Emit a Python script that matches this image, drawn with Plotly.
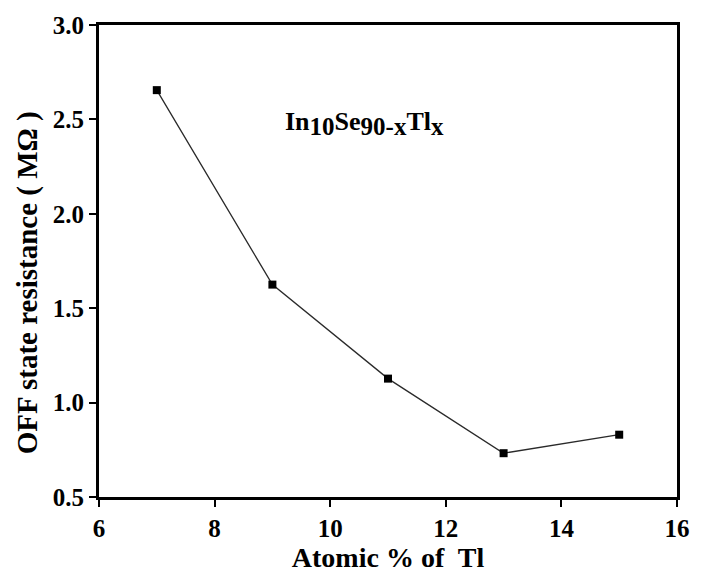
import plotly.graph_objects as go

# OFF-state resistance vs. thallium content for In10Se90-xTlx glasses
tl_percent = [7, 9, 11, 13, 15]
off_resistance = [2.655, 1.625, 1.127, 0.732, 0.83]

x_ticks = [6, 8, 10, 12, 14, 16]
y_ticks = [0.5, 1.0, 1.5, 2.0, 2.5, 3.0]

font_family = "Liberation Serif"

fig = go.Figure()
fig.add_trace(go.Scatter(
    x=tl_percent,
    y=off_resistance,
    mode="lines+markers",
    line=dict(color="#2a2a2a", width=1.3),
    marker=dict(symbol="square", size=8, color="black"),
    showlegend=False,
))

axis_common = dict(
    showgrid=False,
    zeroline=False,
    showline=True,
    linecolor="black",
    linewidth=3,
    mirror=True,
    ticks="outside",
    ticklen=7,
    tickwidth=2,
    tickcolor="black",
    tickfont=dict(family=font_family, size=25, color="black", weight="bold"),
)

fig.update_xaxes(
    range=[6, 16],
    tickvals=x_ticks,
    ticktext=[f"<b>{v}</b>" for v in x_ticks],
    title=dict(text="<b>Atomic % of  Tl</b>",
               font=dict(family=font_family, size=28, color="black"),
               standoff=4),
    **axis_common,
)
fig.update_yaxes(
    range=[0.5, 3.0],
    tickvals=y_ticks,
    ticktext=[f"<b>{v:.1f}</b>" for v in y_ticks],
    **axis_common,
)

# y-axis title, sitting slightly below the vertical centre of the frame
fig.add_annotation(
    x=0, y=0.453, xref="paper", yref="paper",
    xanchor="center", yanchor="middle",
    xshift=-72,
    text="<b>OFF state resistance ( MΩ )</b>",
    textangle=-90,
    showarrow=False,
    font=dict(family=font_family, size=29, color="black"),
)

sub = '<sub><span style="font-size:25px">{}</span></sub>'
formula = ("<b>In" + sub.format("10") + "Se" + sub.format("90-x")
           + "Tl" + sub.format("x") + "</b>")
fig.add_annotation(
    x=10.6, y=2.48, xref="x", yref="y",
    text=formula,
    showarrow=False,
    xanchor="center",
    font=dict(family=font_family, size=26, color="black"),
)

fig.update_layout(
    width=702,
    height=578,
    margin=dict(l=99, r=16, t=20, b=81),
    paper_bgcolor="white",
    plot_bgcolor="white",
)

fig.write_html("out.html")
